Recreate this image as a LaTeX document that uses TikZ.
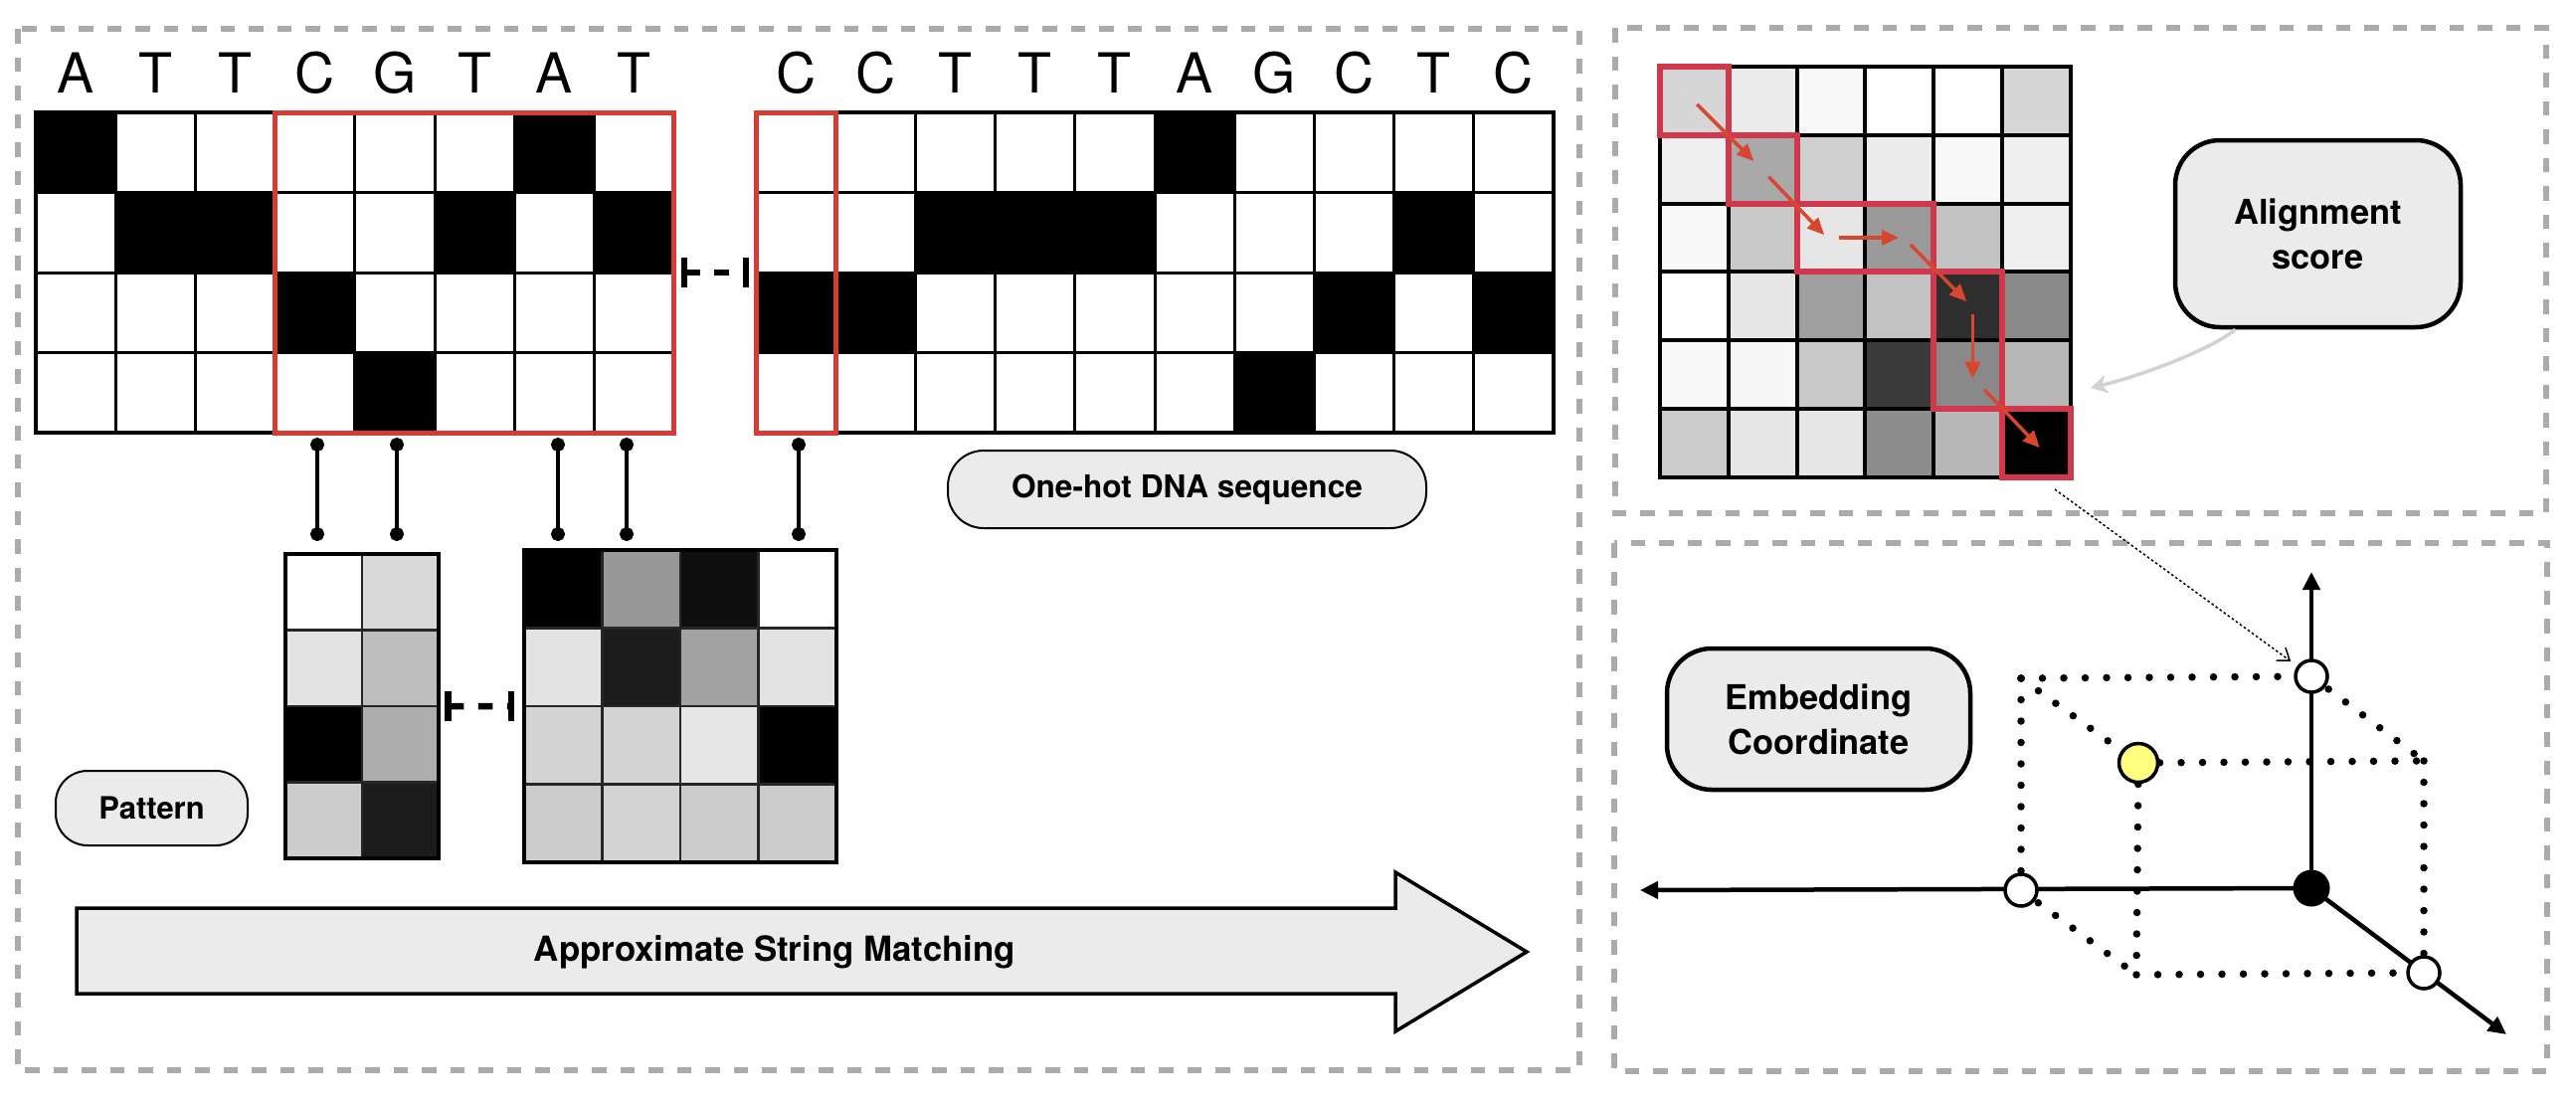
\documentclass[tikz,border=0pt]{standalone}
\usepackage{fontspec}
\setmainfont{TeX Gyre Heros}
\usetikzlibrary{arrows.meta}
\definecolor{panelgray}{HTML}{ABABAB}
\definecolor{lblfill}{HTML}{EBEBEB}
\definecolor{selred}{HTML}{D63B34}
\definecolor{pathred}{HTML}{D0394B}
\definecolor{arrred}{HTML}{D9462F}
\definecolor{softgray}{HTML}{D2D2D2}
\definecolor{dotyellow}{HTML}{FFFF80}
\begin{document}
\begin{tikzpicture}[x=0.1mm,y=-0.1mm,
  panel/.style={draw=panelgray,line width=0.6mm,dash pattern=on 1.45mm off 1.4mm},
  gline/.style={line width=0.3mm},
  pline/.style={line width=0.25mm,draw=black!85},
  gridbox/.style={draw,line width=0.35mm,anchor=north west,inner sep=0pt,outer sep=0pt},
  dna/.style={font=\fontsize{15.8}{19}\selectfont,anchor=base,inner sep=0pt},
  selbox/.style={draw=selred,line width=0.5mm},
  lolli/.style={line width=0.4mm,{Circle[length=1.4mm]}-{Circle[length=1.4mm]}},
  dconn/.style={line width=0.65mm,dash pattern=on 1.45mm off 1.45mm,{Bar[width=3mm,line width=0.65mm]}-{Bar[width=3mm,line width=0.65mm]}},
  lbl/.style={draw,fill=lblfill,align=center,inner sep=0pt,font=\fontsize{9.8}{12.8}\selectfont\bfseries},
  redpath/.style={draw=pathred,line width=0.6mm},
  redarr/.style={draw=arrred,line width=0.35mm,-{Triangle[length=1.7mm,width=1.5mm,fill=arrred]}},
  softarr/.style={draw=softgray,line width=0.35mm,-{Stealth[length=1.7mm,width=1.9mm]}},
  thinarr/.style={line width=0.15mm,dash pattern=on 0.25mm off 0.25mm,-{Straight Barb[length=1.1mm,width=1.6mm]}},
  axisline/.style={line width=0.45mm,-{Triangle[length=1.8mm,width=1.7mm]}},
  cubedot/.style={line width=0.75mm,dash pattern=on 0pt off 2.15mm,line cap=round},
  ocirc/.style={circle,draw,line width=0.35mm,fill=white,minimum size=3.2mm,inner sep=0pt},
  bcirc/.style={circle,fill=black,minimum size=3.7mm,inner sep=0pt},
  ycirc/.style={circle,draw,line width=0.35mm,fill=dotyellow,minimum size=3.9mm,inner sep=0pt}
]
\useasboundingbox (0,0) rectangle (2590,1110);
\fill[white] (0,0) rectangle (2590,1110);

% ---------------- panels
\draw[panel] (18,29) rectangle (1588,1076);
\draw[panel] (1624,28) rectangle (2560,516);
\draw[panel] (1623,546) rectangle (2561,1077);

% ---------------- one-hot sequence A
\foreach \c/\r in {0/0,1/1,2/1,3/2,4/3,5/1,6/0,7/1}
  \fill (36+\c*80.2,113+\r*80.5) rectangle ++(80.2,80.5);
\foreach \i in {1,...,7} \draw[gline] (36+\i*80.2,113) -- ++(0,322);
\foreach \j in {1,2,3} \draw[gline] (36,113+\j*80.5) -- ++(641.6,0);
\node[gridbox,minimum width=64.16mm,minimum height=32.2mm] (seqA) at (36,113) {};
\foreach \l [count=\i from 0] in {A,T,T,C,G,T,A,T}
  \node[dna] (la\i) at (76.1+\i*80.2,93) {\l};

% ---------------- one-hot sequence B
\foreach \c/\r in {0/2,1/2,2/1,3/1,4/1,5/0,6/3,7/2,8/1,9/2}
  \fill (760+\c*80.2,113+\r*80.5) rectangle ++(80.2,80.5);
\foreach \i in {1,...,9} \draw[gline] (760+\i*80.2,113) -- ++(0,322);
\foreach \j in {1,2,3} \draw[gline] (760,113+\j*80.5) -- ++(802,0);
\node[gridbox,minimum width=80.2mm,minimum height=32.2mm] (seqB) at (760,113) {};
\foreach \l [count=\i from 0] in {C,C,T,T,T,A,G,C,T,C}
  \node[dna] (lb\i) at (800.1+\i*80.2,93) {\l};

% selections
\draw[selbox] (276.6,113) rectangle (677.6,435);
\draw[selbox] (760,113) rectangle (840.2,435);

% dashed link between sequences
\draw[dconn] ([xshift=0.7mm]seqA.east) -- ([xshift=-0.7mm]seqB.west);

% ---------------- patterns
\foreach \row [count=\r from 0] in {{255,217},{227,189},{0,173},{204,28}}{
  \foreach \v [count=\c from 0] in \row {
    \definecolor{tmpc}{RGB}{\v,\v,\v}
    \fill[tmpc] (287+\c*77,557+\r*76.5) rectangle ++(77,76.5);
  }
}
\draw[pline] (364,557) -- ++(0,306);
\foreach \j in {1,2,3} \draw[pline] (287,557+\j*76.5) -- ++(154,0);
\node[gridbox,minimum width=15.4mm,minimum height=30.6mm] (patA) at (287,557) {};

\foreach \row [count=\r from 0] in {{0,152,14,255},{227,28,162,227},{211,211,230,0},{204,211,204,204}}{
  \foreach \v [count=\c from 0] in \row {
    \definecolor{tmpc}{RGB}{\v,\v,\v}
    \fill[tmpc] (527+\c*78.5,553+\r*78.5) rectangle ++(78.5,78.5);
  }
}
\foreach \i in {1,2,3} \draw[pline] (527+\i*78.5,553) -- ++(0,314);
\foreach \j in {1,2,3} \draw[pline] (527,553+\j*78.5) -- ++(314,0);
\node[gridbox,minimum width=31.4mm,minimum height=31.4mm] (patB) at (527,553) {};

\draw[dconn] ([xshift=0.6mm]patA.east) -- ([xshift=-1mm]patB.west);

% lollipops
\foreach \x [count=\k] in {319,399,561,630,803}{
  \coordinate (lt\k) at (\x,440);
  \coordinate (lb\k) at (\x,544);
  \draw[lolli] (lt\k) -- (lb\k);
}

% labels
\node[lbl,minimum width=48.1mm,minimum height=7.8mm,rounded corners=3.6mm,line width=0.2mm,
      font=\fontsize{9}{11}\selectfont\bfseries] (onehot) at (1193.5,492) {One-hot DNA sequence};
\node[lbl,minimum width=19.3mm,minimum height=7.5mm,rounded corners=3.2mm,line width=0.2mm,
      font=\fontsize{8.8}{11}\selectfont\bfseries] (pat) at (152.5,812.5) {Pattern};

% big arrow
\draw[line width=0.35mm,fill=lblfill] (77,913) -- (1403,913) -- (1403,877) -- (1535,957)
   -- (1403,1037) -- (1403,999) -- (77,999) -- cycle;
\node[font=\fontsize{9.9}{12}\selectfont\bfseries] (asm) at (779,957) {Approximate String Matching};

% ---------------- alignment matrix
\foreach \row [count=\r from 0] in {{214,236,248,254,254,214},{239,169,208,236,248,239},
   {248,201,230,154,194,239},{255,230,159,194,46,137},{248,246,201,58,137,184},{204,230,230,141,184,0}}{
  \foreach \v [count=\c from 0] in \row {
    \definecolor{tmpc}{RGB}{\v,\v,\v}
    \fill[tmpc] (1669+\c*68.8,67+\r*68.8) rectangle ++(68.8,68.8);
  }
}
\foreach \i in {1,...,5} \draw[gline,line width=0.4mm] (1669+\i*68.8,67) -- ++(0,412.8);
\foreach \j in {1,...,5} \draw[gline,line width=0.4mm] (1669,67+\j*68.8) -- ++(412.8,0);
\node[gridbox,line width=0.4mm,minimum width=41.28mm,minimum height=41.28mm] (aln) at (1669,67) {};

\draw[redpath] (1669,67) rectangle ++(68.8,68.8);
\draw[redpath] (1737.8,135.8) rectangle ++(68.8,68.8);
\draw[redpath] (1806.6,204.6) rectangle ++(137.6,68.8);
\draw[redpath] (1944.2,273.4) rectangle ++(68.8,137.6);
\draw[redpath] (2013,411) rectangle ++(68.8,68.8);

\coordinate (a1) at (1706.2,104.8);  \coordinate (a2) at (1763.3,161.9);
\coordinate (a3) at (1778.4,177.8);  \coordinate (a4) at (1834.1,236.2);
\coordinate (a5) at (1849.3,239);    \coordinate (a6) at (1909.1,239);
\coordinate (a7) at (1920.8,245.9);  \coordinate (a8) at (1977.2,303);
\coordinate (a9) at (1983.4,316.1);  \coordinate (a10) at (1983.4,380.7);
\coordinate (a11) at (1995.1,391.7); \coordinate (a12) at (2050.8,450.2);
\draw[redarr] (a1) -- (a2);
\draw[redarr] (a3) -- (a4);
\draw[redarr] (a5) -- (a6);
\draw[redarr] (a7) -- (a8);
\draw[redarr] (a9) -- (a10);
\draw[redarr] (a11) -- (a12);

\node[lbl,minimum width=28.7mm,minimum height=18.8mm,rounded corners=4.5mm,line width=0.45mm] (score) at (2330.5,235) {Alignment\\score};
\coordinate (gEnd) at (2102,390);
\draw[softarr] ([xshift=-8.3mm]score.south) .. controls (2222,352) and (2152,378) .. (gEnd);

% ---------------- embedding coordinate
\coordinate (pO) at (2324,893);
\coordinate (pX) at (2032,895);
\coordinate (pY) at (2324,680);
\coordinate (pZ) at (2437,978);
\coordinate (pXY) at (2032,682);
\coordinate (pYZ) at (2437,765);
\coordinate (pXZ) at (2148,980);
\coordinate (pXYZ) at (2150,767);
\coordinate (tX) at (1649,895);
\coordinate (tY) at (2324,575);
\coordinate (tZ) at (2520,1040);

\draw[axisline] (pO) -- (tY);
\draw[axisline] (pO) -- (tX);
\draw[axisline] (pO) -- (tZ);

\draw[cubedot] (pXY) -- (pY);
\draw[cubedot] (pXY) -- (pX);
\draw[cubedot] (pXY) -- (pXYZ);
\draw[cubedot] (pY) -- (pYZ);
\draw[cubedot] (pXYZ) -- (pYZ);
\draw[cubedot] (pYZ) -- (pZ);
\draw[cubedot] (pXYZ) -- (pXZ);
\draw[cubedot] (pX) -- (pXZ);
\draw[cubedot] (pXZ) -- (pZ);

\node[bcirc] (co) at (pO) {};
\node[ocirc] (cx) at (pX) {};
\node[ocirc] (cy) at (pY) {};
\node[ocirc] (cz) at (pZ) {};
\node[ycirc] (cp) at (pXYZ) {};

\node[lbl,minimum width=30.5mm,minimum height=14.2mm,rounded corners=4.5mm,line width=0.45mm] (embed) at (1828.5,723) {Embedding\\Coordinate};

\coordinate (dStart) at (2066,492);
\draw[thinarr,shorten >=0.8mm] (dStart) -- (cy);
\end{tikzpicture}
\end{document}
